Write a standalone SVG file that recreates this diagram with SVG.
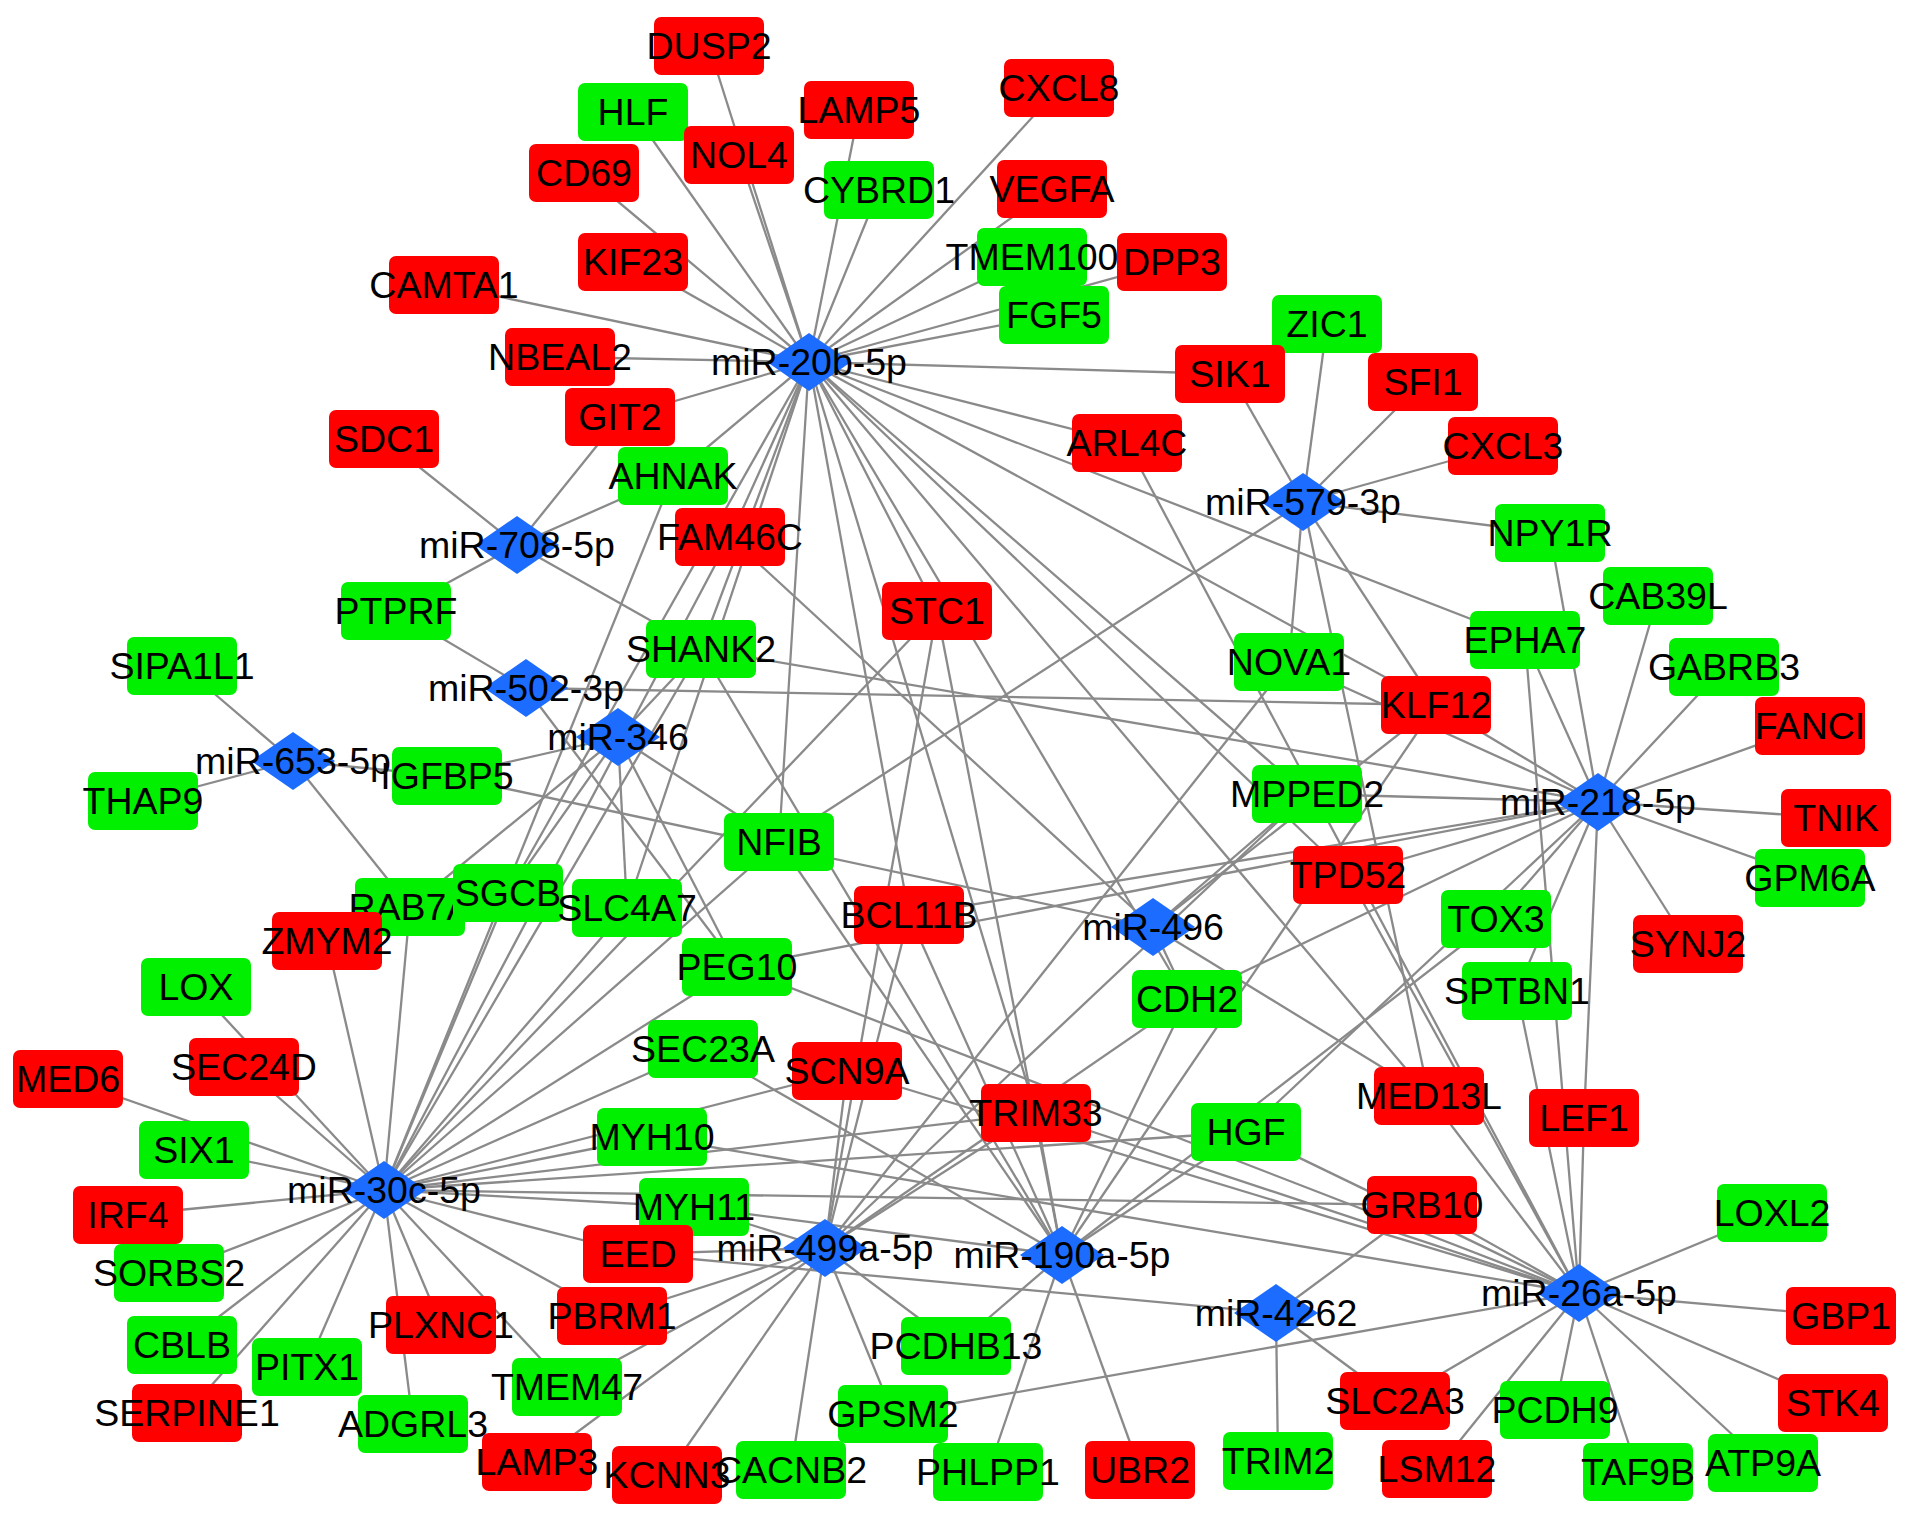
<svg xmlns="http://www.w3.org/2000/svg" width="1913" height="1518" viewBox="0 0 1913 1518">
<style>
.bg{fill:#ffffff}
#edges line{stroke:#8a8a8a;stroke-width:2.3;fill:none}
.r{fill:#ff0000}
.g{fill:#00f000}
.m{fill:#1c6cff}
text{font-family:"Liberation Sans",Arial,sans-serif;font-size:37.5px;text-anchor:middle;fill:#000000}
</style>
<defs>
<rect id="box" x="-55" y="-29" width="110" height="58" rx="7" ry="7"/>
<path id="dia" d="M-42,0 L0,-29 L42,0 L0,29 Z"/>
</defs>
<rect class="bg" x="0" y="0" width="1913" height="1518"/>
<g id="edges">
<!-- miR-20b-5p -->
<line x1="809" y1="362" x2="709" y2="46"/>
<line x1="809" y1="362" x2="633" y2="112"/>
<line x1="809" y1="362" x2="739" y2="155"/>
<line x1="809" y1="362" x2="584" y2="173"/>
<line x1="809" y1="362" x2="633" y2="262"/>
<line x1="809" y1="362" x2="859" y2="110"/>
<line x1="809" y1="362" x2="879" y2="190"/>
<line x1="809" y1="362" x2="1059" y2="88"/>
<line x1="809" y1="362" x2="1052" y2="189"/>
<line x1="809" y1="362" x2="1032" y2="257"/>
<line x1="809" y1="362" x2="1172" y2="262"/>
<line x1="809" y1="362" x2="1054" y2="315"/>
<line x1="809" y1="362" x2="444" y2="285"/>
<line x1="809" y1="362" x2="560" y2="357"/>
<line x1="809" y1="362" x2="620" y2="417"/>
<line x1="809" y1="362" x2="673" y2="476"/>
<line x1="809" y1="362" x2="1230" y2="374"/>
<line x1="809" y1="362" x2="1127" y2="443"/>
<line x1="809" y1="362" x2="730" y2="537"/>
<line x1="809" y1="362" x2="701" y2="649"/>
<line x1="809" y1="362" x2="508" y2="893"/>
<line x1="809" y1="362" x2="627" y2="908"/>
<line x1="809" y1="362" x2="779" y2="842"/>
<line x1="809" y1="362" x2="909" y2="915"/>
<line x1="809" y1="362" x2="937" y2="611"/>
<line x1="809" y1="362" x2="1525" y2="640"/>
<line x1="809" y1="362" x2="1436" y2="705"/>
<line x1="809" y1="362" x2="1307" y2="794"/>
<line x1="809" y1="362" x2="1348" y2="875"/>
<line x1="809" y1="362" x2="1429" y2="1096"/>
<line x1="809" y1="362" x2="1187" y2="999"/>
<line x1="809" y1="362" x2="1036" y2="1113"/>
<!-- miR-579-3p -->
<line x1="1303" y1="502" x2="1327" y2="324"/>
<line x1="1303" y1="502" x2="1230" y2="374"/>
<line x1="1303" y1="502" x2="1423" y2="382"/>
<line x1="1303" y1="502" x2="1503" y2="446"/>
<line x1="1303" y1="502" x2="1550" y2="533"/>
<line x1="1303" y1="502" x2="1289" y2="662"/>
<line x1="1303" y1="502" x2="1436" y2="705"/>
<line x1="1303" y1="502" x2="1429" y2="1096"/>
<line x1="1303" y1="502" x2="779" y2="842"/>
<!-- miR-708-5p -->
<line x1="517" y1="545" x2="384" y2="439"/>
<line x1="517" y1="545" x2="620" y2="417"/>
<line x1="517" y1="545" x2="673" y2="476"/>
<line x1="517" y1="545" x2="396" y2="611"/>
<line x1="517" y1="545" x2="701" y2="649"/>
<!-- miR-502-3p -->
<line x1="526" y1="688" x2="396" y2="611"/>
<line x1="526" y1="688" x2="1436" y2="705"/>
<line x1="526" y1="688" x2="737" y2="967"/>
<!-- miR-346 -->
<line x1="618" y1="737" x2="447" y2="776"/>
<line x1="618" y1="737" x2="779" y2="842"/>
<line x1="618" y1="737" x2="737" y2="967"/>
<line x1="618" y1="737" x2="508" y2="893"/>
<line x1="618" y1="737" x2="627" y2="908"/>
<line x1="618" y1="737" x2="701" y2="649"/>
<line x1="618" y1="737" x2="410" y2="907"/>
<!-- miR-653-5p -->
<line x1="293" y1="761" x2="182" y2="666"/>
<line x1="293" y1="761" x2="143" y2="801"/>
<line x1="293" y1="761" x2="447" y2="776"/>
<line x1="293" y1="761" x2="410" y2="907"/>
<!-- miR-218-5p -->
<line x1="1598" y1="802" x2="1550" y2="533"/>
<line x1="1598" y1="802" x2="1525" y2="640"/>
<line x1="1598" y1="802" x2="1658" y2="596"/>
<line x1="1598" y1="802" x2="1724" y2="667"/>
<line x1="1598" y1="802" x2="1810" y2="726"/>
<line x1="1598" y1="802" x2="1836" y2="818"/>
<line x1="1598" y1="802" x2="1810" y2="878"/>
<line x1="1598" y1="802" x2="1688" y2="944"/>
<line x1="1598" y1="802" x2="1436" y2="705"/>
<line x1="1598" y1="802" x2="1307" y2="794"/>
<line x1="1598" y1="802" x2="1348" y2="875"/>
<line x1="1598" y1="802" x2="1496" y2="919"/>
<line x1="1598" y1="802" x2="1517" y2="991"/>
<line x1="1598" y1="802" x2="1584" y2="1118"/>
<line x1="1598" y1="802" x2="701" y2="649"/>
<line x1="1598" y1="802" x2="909" y2="915"/>
<line x1="1598" y1="802" x2="737" y2="967"/>
<line x1="1598" y1="802" x2="1187" y2="999"/>
<line x1="1598" y1="802" x2="1246" y2="1132"/>
<line x1="1598" y1="802" x2="1289" y2="662"/>
<!-- miR-496 -->
<line x1="1153" y1="927" x2="1187" y2="999"/>
<line x1="1153" y1="927" x2="1307" y2="794"/>
<line x1="1153" y1="927" x2="447" y2="776"/>
<line x1="1153" y1="927" x2="1436" y2="705"/>
<line x1="1153" y1="927" x2="730" y2="537"/>
<line x1="1153" y1="927" x2="1429" y2="1096"/>
<!-- miR-30c-5p -->
<line x1="384" y1="1190" x2="196" y2="987"/>
<line x1="384" y1="1190" x2="244" y2="1067"/>
<line x1="384" y1="1190" x2="68" y2="1079"/>
<line x1="384" y1="1190" x2="194" y2="1150"/>
<line x1="384" y1="1190" x2="128" y2="1215"/>
<line x1="384" y1="1190" x2="169" y2="1273"/>
<line x1="384" y1="1190" x2="182" y2="1345"/>
<line x1="384" y1="1190" x2="187" y2="1413"/>
<line x1="384" y1="1190" x2="307" y2="1367"/>
<line x1="384" y1="1190" x2="413" y2="1424"/>
<line x1="384" y1="1190" x2="441" y2="1325"/>
<line x1="384" y1="1190" x2="567" y2="1387"/>
<line x1="384" y1="1190" x2="612" y2="1316"/>
<line x1="384" y1="1190" x2="638" y2="1254"/>
<line x1="384" y1="1190" x2="694" y2="1207"/>
<line x1="384" y1="1190" x2="652" y2="1137"/>
<line x1="384" y1="1190" x2="703" y2="1049"/>
<line x1="384" y1="1190" x2="847" y2="1071"/>
<line x1="384" y1="1190" x2="737" y2="967"/>
<line x1="384" y1="1190" x2="627" y2="908"/>
<line x1="384" y1="1190" x2="508" y2="893"/>
<line x1="384" y1="1190" x2="410" y2="907"/>
<line x1="384" y1="1190" x2="327" y2="941"/>
<line x1="384" y1="1190" x2="1422" y2="1205"/>
<line x1="384" y1="1190" x2="1036" y2="1113"/>
<line x1="384" y1="1190" x2="1246" y2="1132"/>
<line x1="384" y1="1190" x2="779" y2="842"/>
<line x1="384" y1="1190" x2="701" y2="649"/>
<line x1="384" y1="1190" x2="730" y2="537"/>
<line x1="384" y1="1190" x2="673" y2="476"/>
<line x1="384" y1="1190" x2="937" y2="611"/>
<!-- miR-499a-5p -->
<line x1="825" y1="1248" x2="638" y2="1254"/>
<line x1="825" y1="1248" x2="612" y2="1316"/>
<line x1="825" y1="1248" x2="537" y2="1462"/>
<line x1="825" y1="1248" x2="667" y2="1475"/>
<line x1="825" y1="1248" x2="791" y2="1470"/>
<line x1="825" y1="1248" x2="893" y2="1414"/>
<line x1="825" y1="1248" x2="956" y2="1346"/>
<line x1="825" y1="1248" x2="847" y2="1071"/>
<line x1="825" y1="1248" x2="937" y2="611"/>
<line x1="825" y1="1248" x2="909" y2="915"/>
<line x1="825" y1="1248" x2="1289" y2="662"/>
<line x1="825" y1="1248" x2="1307" y2="794"/>
<line x1="825" y1="1248" x2="1187" y2="999"/>
<line x1="825" y1="1248" x2="1036" y2="1113"/>
<line x1="825" y1="1248" x2="567" y2="1387"/>
<line x1="825" y1="1248" x2="694" y2="1207"/>
<!-- miR-190a-5p -->
<line x1="1062" y1="1255" x2="937" y2="611"/>
<line x1="1062" y1="1255" x2="1036" y2="1113"/>
<line x1="1062" y1="1255" x2="1187" y2="999"/>
<line x1="1062" y1="1255" x2="1246" y2="1132"/>
<line x1="1062" y1="1255" x2="956" y2="1346"/>
<line x1="1062" y1="1255" x2="988" y2="1472"/>
<line x1="1062" y1="1255" x2="1140" y2="1470"/>
<line x1="1062" y1="1255" x2="703" y2="1049"/>
<line x1="1062" y1="1255" x2="694" y2="1207"/>
<line x1="1062" y1="1255" x2="909" y2="915"/>
<line x1="1062" y1="1255" x2="779" y2="842"/>
<line x1="1062" y1="1255" x2="701" y2="649"/>
<line x1="1062" y1="1255" x2="1496" y2="919"/>
<line x1="1062" y1="1255" x2="1436" y2="705"/>
<!-- miR-4262 -->
<line x1="1276" y1="1313" x2="1422" y2="1205"/>
<line x1="1276" y1="1313" x2="1395" y2="1401"/>
<line x1="1276" y1="1313" x2="1278" y2="1461"/>
<line x1="1276" y1="1313" x2="638" y2="1254"/>
<!-- miR-26a-5p -->
<line x1="1579" y1="1293" x2="1772" y2="1213"/>
<line x1="1579" y1="1293" x2="1841" y2="1316"/>
<line x1="1579" y1="1293" x2="1833" y2="1403"/>
<line x1="1579" y1="1293" x2="1763" y2="1463"/>
<line x1="1579" y1="1293" x2="1638" y2="1472"/>
<line x1="1579" y1="1293" x2="1555" y2="1410"/>
<line x1="1579" y1="1293" x2="1437" y2="1469"/>
<line x1="1579" y1="1293" x2="1395" y2="1401"/>
<line x1="1579" y1="1293" x2="893" y2="1414"/>
<line x1="1579" y1="1293" x2="652" y2="1137"/>
<line x1="1579" y1="1293" x2="1422" y2="1205"/>
<line x1="1579" y1="1293" x2="1429" y2="1096"/>
<line x1="1579" y1="1293" x2="1584" y2="1118"/>
<line x1="1579" y1="1293" x2="1517" y2="991"/>
<line x1="1579" y1="1293" x2="1525" y2="640"/>
<line x1="1579" y1="1293" x2="1348" y2="875"/>
<line x1="1579" y1="1293" x2="1127" y2="443"/>
<line x1="1579" y1="1293" x2="1246" y2="1132"/>
<line x1="1579" y1="1293" x2="1036" y2="1113"/>
<line x1="1579" y1="1293" x2="737" y2="967"/>
<line x1="1579" y1="1293" x2="847" y2="1071"/>
</g>
<g id="nodes">
<g id="n-DUSP2"><use href="#box" class="r" x="709" y="46"/><text x="709" y="59">DUSP2</text></g>
<g id="n-LAMP5"><use href="#box" class="r" x="859" y="110"/><text x="859" y="123">LAMP5</text></g>
<g id="n-CXCL8"><use href="#box" class="r" x="1059" y="88"/><text x="1059" y="101">CXCL8</text></g>
<g id="n-HLF"><use href="#box" class="g" x="633" y="112"/><text x="633" y="125">HLF</text></g>
<g id="n-NOL4"><use href="#box" class="r" x="739" y="155"/><text x="739" y="168">NOL4</text></g>
<g id="n-CD69"><use href="#box" class="r" x="584" y="173"/><text x="584" y="186">CD69</text></g>
<g id="n-CYBRD1"><use href="#box" class="g" x="879" y="190"/><text x="879" y="203">CYBRD1</text></g>
<g id="n-VEGFA"><use href="#box" class="r" x="1052" y="189"/><text x="1052" y="202">VEGFA</text></g>
<g id="n-KIF23"><use href="#box" class="r" x="633" y="262"/><text x="633" y="275">KIF23</text></g>
<g id="n-CAMTA1"><use href="#box" class="r" x="444" y="285"/><text x="444" y="298">CAMTA1</text></g>
<g id="n-TMEM100"><use href="#box" class="g" x="1032" y="257"/><text x="1032" y="270">TMEM100</text></g>
<g id="n-DPP3"><use href="#box" class="r" x="1172" y="262"/><text x="1172" y="275">DPP3</text></g>
<g id="n-FGF5"><use href="#box" class="g" x="1054" y="315"/><text x="1054" y="328">FGF5</text></g>
<g id="n-ZIC1"><use href="#box" class="g" x="1327" y="324"/><text x="1327" y="337">ZIC1</text></g>
<g id="n-NBEAL2"><use href="#box" class="r" x="560" y="357"/><text x="560" y="370">NBEAL2</text></g>
<g id="n-SIK1"><use href="#box" class="r" x="1230" y="374"/><text x="1230" y="387">SIK1</text></g>
<g id="n-SFI1"><use href="#box" class="r" x="1423" y="382"/><text x="1423" y="395">SFI1</text></g>
<g id="n-GIT2"><use href="#box" class="r" x="620" y="417"/><text x="620" y="430">GIT2</text></g>
<g id="n-SDC1"><use href="#box" class="r" x="384" y="439"/><text x="384" y="452">SDC1</text></g>
<g id="n-ARL4C"><use href="#box" class="r" x="1127" y="443"/><text x="1127" y="456">ARL4C</text></g>
<g id="n-CXCL3"><use href="#box" class="r" x="1503" y="446"/><text x="1503" y="459">CXCL3</text></g>
<g id="n-AHNAK"><use href="#box" class="g" x="673" y="476"/><text x="673" y="489">AHNAK</text></g>
<g id="n-NPY1R"><use href="#box" class="g" x="1550" y="533"/><text x="1550" y="546">NPY1R</text></g>
<g id="n-FAM46C"><use href="#box" class="r" x="730" y="537"/><text x="730" y="550">FAM46C</text></g>
<g id="n-CAB39L"><use href="#box" class="g" x="1658" y="596"/><text x="1658" y="609">CAB39L</text></g>
<g id="n-PTPRF"><use href="#box" class="g" x="396" y="611"/><text x="396" y="624">PTPRF</text></g>
<g id="n-STC1"><use href="#box" class="r" x="937" y="611"/><text x="937" y="624">STC1</text></g>
<g id="n-EPHA7"><use href="#box" class="g" x="1525" y="640"/><text x="1525" y="653">EPHA7</text></g>
<g id="n-SHANK2"><use href="#box" class="g" x="701" y="649"/><text x="701" y="662">SHANK2</text></g>
<g id="n-SIPA1L1"><use href="#box" class="g" x="182" y="666"/><text x="182" y="679">SIPA1L1</text></g>
<g id="n-NOVA1"><use href="#box" class="g" x="1289" y="662"/><text x="1289" y="675">NOVA1</text></g>
<g id="n-GABRB3"><use href="#box" class="g" x="1724" y="667"/><text x="1724" y="680">GABRB3</text></g>
<g id="n-KLF12"><use href="#box" class="r" x="1436" y="705"/><text x="1436" y="718">KLF12</text></g>
<g id="n-FANCI"><use href="#box" class="r" x="1810" y="726"/><text x="1810" y="739">FANCI</text></g>
<g id="n-IGFBP5"><use href="#box" class="g" x="447" y="776"/><text x="447" y="789">IGFBP5</text></g>
<g id="n-THAP9"><use href="#box" class="g" x="143" y="801"/><text x="143" y="814">THAP9</text></g>
<g id="n-MPPED2"><use href="#box" class="g" x="1307" y="794"/><text x="1307" y="807">MPPED2</text></g>
<g id="n-TNIK"><use href="#box" class="r" x="1836" y="818"/><text x="1836" y="831">TNIK</text></g>
<g id="n-NFIB"><use href="#box" class="g" x="779" y="842"/><text x="779" y="855">NFIB</text></g>
<g id="n-GPM6A"><use href="#box" class="g" x="1810" y="878"/><text x="1810" y="891">GPM6A</text></g>
<g id="n-TPD52"><use href="#box" class="r" x="1348" y="875"/><text x="1348" y="888">TPD52</text></g>
<g id="n-RAB7A"><use href="#box" class="g" x="410" y="907"/><text x="410" y="920">RAB7A</text></g>
<g id="n-ZMYM2"><use href="#box" class="r" x="327" y="941"/><text x="327" y="954">ZMYM2</text></g>
<g id="n-SGCB"><use href="#box" class="g" x="508" y="893"/><text x="508" y="906">SGCB</text></g>
<g id="n-SLC4A7"><use href="#box" class="g" x="627" y="908"/><text x="627" y="921">SLC4A7</text></g>
<g id="n-BCL11B"><use href="#box" class="r" x="909" y="915"/><text x="909" y="928">BCL11B</text></g>
<g id="n-TOX3"><use href="#box" class="g" x="1496" y="919"/><text x="1496" y="932">TOX3</text></g>
<g id="n-SYNJ2"><use href="#box" class="r" x="1688" y="944"/><text x="1688" y="957">SYNJ2</text></g>
<g id="n-PEG10"><use href="#box" class="g" x="737" y="967"/><text x="737" y="980">PEG10</text></g>
<g id="n-LOX"><use href="#box" class="g" x="196" y="987"/><text x="196" y="1000">LOX</text></g>
<g id="n-SPTBN1"><use href="#box" class="g" x="1517" y="991"/><text x="1517" y="1004">SPTBN1</text></g>
<g id="n-CDH2"><use href="#box" class="g" x="1187" y="999"/><text x="1187" y="1012">CDH2</text></g>
<g id="n-SEC23A"><use href="#box" class="g" x="703" y="1049"/><text x="703" y="1062">SEC23A</text></g>
<g id="n-MED6"><use href="#box" class="r" x="68" y="1079"/><text x="68" y="1092">MED6</text></g>
<g id="n-SEC24D"><use href="#box" class="r" x="244" y="1067"/><text x="244" y="1080">SEC24D</text></g>
<g id="n-SCN9A"><use href="#box" class="r" x="847" y="1071"/><text x="847" y="1084">SCN9A</text></g>
<g id="n-MED13L"><use href="#box" class="r" x="1429" y="1096"/><text x="1429" y="1109">MED13L</text></g>
<g id="n-TRIM33"><use href="#box" class="r" x="1036" y="1113"/><text x="1036" y="1126">TRIM33</text></g>
<g id="n-LEF1"><use href="#box" class="r" x="1584" y="1118"/><text x="1584" y="1131">LEF1</text></g>
<g id="n-HGF"><use href="#box" class="g" x="1246" y="1132"/><text x="1246" y="1145">HGF</text></g>
<g id="n-MYH10"><use href="#box" class="g" x="652" y="1137"/><text x="652" y="1150">MYH10</text></g>
<g id="n-SIX1"><use href="#box" class="g" x="194" y="1150"/><text x="194" y="1163">SIX1</text></g>
<g id="n-MYH11"><use href="#box" class="g" x="694" y="1207"/><text x="694" y="1220">MYH11</text></g>
<g id="n-GRB10"><use href="#box" class="r" x="1422" y="1205"/><text x="1422" y="1218">GRB10</text></g>
<g id="n-LOXL2"><use href="#box" class="g" x="1772" y="1213"/><text x="1772" y="1226">LOXL2</text></g>
<g id="n-IRF4"><use href="#box" class="r" x="128" y="1215"/><text x="128" y="1228">IRF4</text></g>
<g id="n-EED"><use href="#box" class="r" x="638" y="1254"/><text x="638" y="1267">EED</text></g>
<g id="n-SORBS2"><use href="#box" class="g" x="169" y="1273"/><text x="169" y="1286">SORBS2</text></g>
<g id="n-PBRM1"><use href="#box" class="r" x="612" y="1316"/><text x="612" y="1329">PBRM1</text></g>
<g id="n-GBP1"><use href="#box" class="r" x="1841" y="1316"/><text x="1841" y="1329">GBP1</text></g>
<g id="n-PLXNC1"><use href="#box" class="r" x="441" y="1325"/><text x="441" y="1338">PLXNC1</text></g>
<g id="n-CBLB"><use href="#box" class="g" x="182" y="1345"/><text x="182" y="1358">CBLB</text></g>
<g id="n-PCDHB13"><use href="#box" class="g" x="956" y="1346"/><text x="956" y="1359">PCDHB13</text></g>
<g id="n-PITX1"><use href="#box" class="g" x="307" y="1367"/><text x="307" y="1380">PITX1</text></g>
<g id="n-TMEM47"><use href="#box" class="g" x="567" y="1387"/><text x="567" y="1400">TMEM47</text></g>
<g id="n-SLC2A3"><use href="#box" class="r" x="1395" y="1401"/><text x="1395" y="1414">SLC2A3</text></g>
<g id="n-STK4"><use href="#box" class="r" x="1833" y="1403"/><text x="1833" y="1416">STK4</text></g>
<g id="n-PCDH9"><use href="#box" class="g" x="1555" y="1410"/><text x="1555" y="1423">PCDH9</text></g>
<g id="n-SERPINE1"><use href="#box" class="r" x="187" y="1413"/><text x="187" y="1426">SERPINE1</text></g>
<g id="n-GPSM2"><use href="#box" class="g" x="893" y="1414"/><text x="893" y="1427">GPSM2</text></g>
<g id="n-ADGRL3"><use href="#box" class="g" x="413" y="1424"/><text x="413" y="1437">ADGRL3</text></g>
<g id="n-TRIM2"><use href="#box" class="g" x="1278" y="1461"/><text x="1278" y="1474">TRIM2</text></g>
<g id="n-LAMP3"><use href="#box" class="r" x="537" y="1462"/><text x="537" y="1475">LAMP3</text></g>
<g id="n-ATP9A"><use href="#box" class="g" x="1763" y="1463"/><text x="1763" y="1476">ATP9A</text></g>
<g id="n-LSM12"><use href="#box" class="r" x="1437" y="1469"/><text x="1437" y="1482">LSM12</text></g>
<g id="n-UBR2"><use href="#box" class="r" x="1140" y="1470"/><text x="1140" y="1483">UBR2</text></g>
<g id="n-KCNN3"><use href="#box" class="r" x="667" y="1475"/><text x="667" y="1488">KCNN3</text></g>
<g id="n-CACNB2"><use href="#box" class="g" x="791" y="1470"/><text x="791" y="1483">CACNB2</text></g>
<g id="n-PHLPP1"><use href="#box" class="g" x="988" y="1472"/><text x="988" y="1485">PHLPP1</text></g>
<g id="n-TAF9B"><use href="#box" class="g" x="1638" y="1472"/><text x="1638" y="1485">TAF9B</text></g>
<g id="n-miR-20b-5p"><use href="#dia" class="m" x="809" y="362"/><text x="809" y="375">miR-20b-5p</text></g>
<g id="n-miR-579-3p"><use href="#dia" class="m" x="1303" y="502"/><text x="1303" y="515">miR-579-3p</text></g>
<g id="n-miR-708-5p"><use href="#dia" class="m" x="517" y="545"/><text x="517" y="558">miR-708-5p</text></g>
<g id="n-miR-502-3p"><use href="#dia" class="m" x="526" y="688"/><text x="526" y="701">miR-502-3p</text></g>
<g id="n-miR-346"><use href="#dia" class="m" x="618" y="737"/><text x="618" y="750">miR-346</text></g>
<g id="n-miR-653-5p"><use href="#dia" class="m" x="293" y="761"/><text x="293" y="774">miR-653-5p</text></g>
<g id="n-miR-218-5p"><use href="#dia" class="m" x="1598" y="802"/><text x="1598" y="815">miR-218-5p</text></g>
<g id="n-miR-496"><use href="#dia" class="m" x="1153" y="927"/><text x="1153" y="940">miR-496</text></g>
<g id="n-miR-30c-5p"><use href="#dia" class="m" x="384" y="1190"/><text x="384" y="1203">miR-30c-5p</text></g>
<g id="n-miR-499a-5p"><use href="#dia" class="m" x="825" y="1248"/><text x="825" y="1261">miR-499a-5p</text></g>
<g id="n-miR-190a-5p"><use href="#dia" class="m" x="1062" y="1255"/><text x="1062" y="1268">miR-190a-5p</text></g>
<g id="n-miR-4262"><use href="#dia" class="m" x="1276" y="1313"/><text x="1276" y="1326">miR-4262</text></g>
<g id="n-miR-26a-5p"><use href="#dia" class="m" x="1579" y="1293"/><text x="1579" y="1306">miR-26a-5p</text></g>
</g>
</svg>
